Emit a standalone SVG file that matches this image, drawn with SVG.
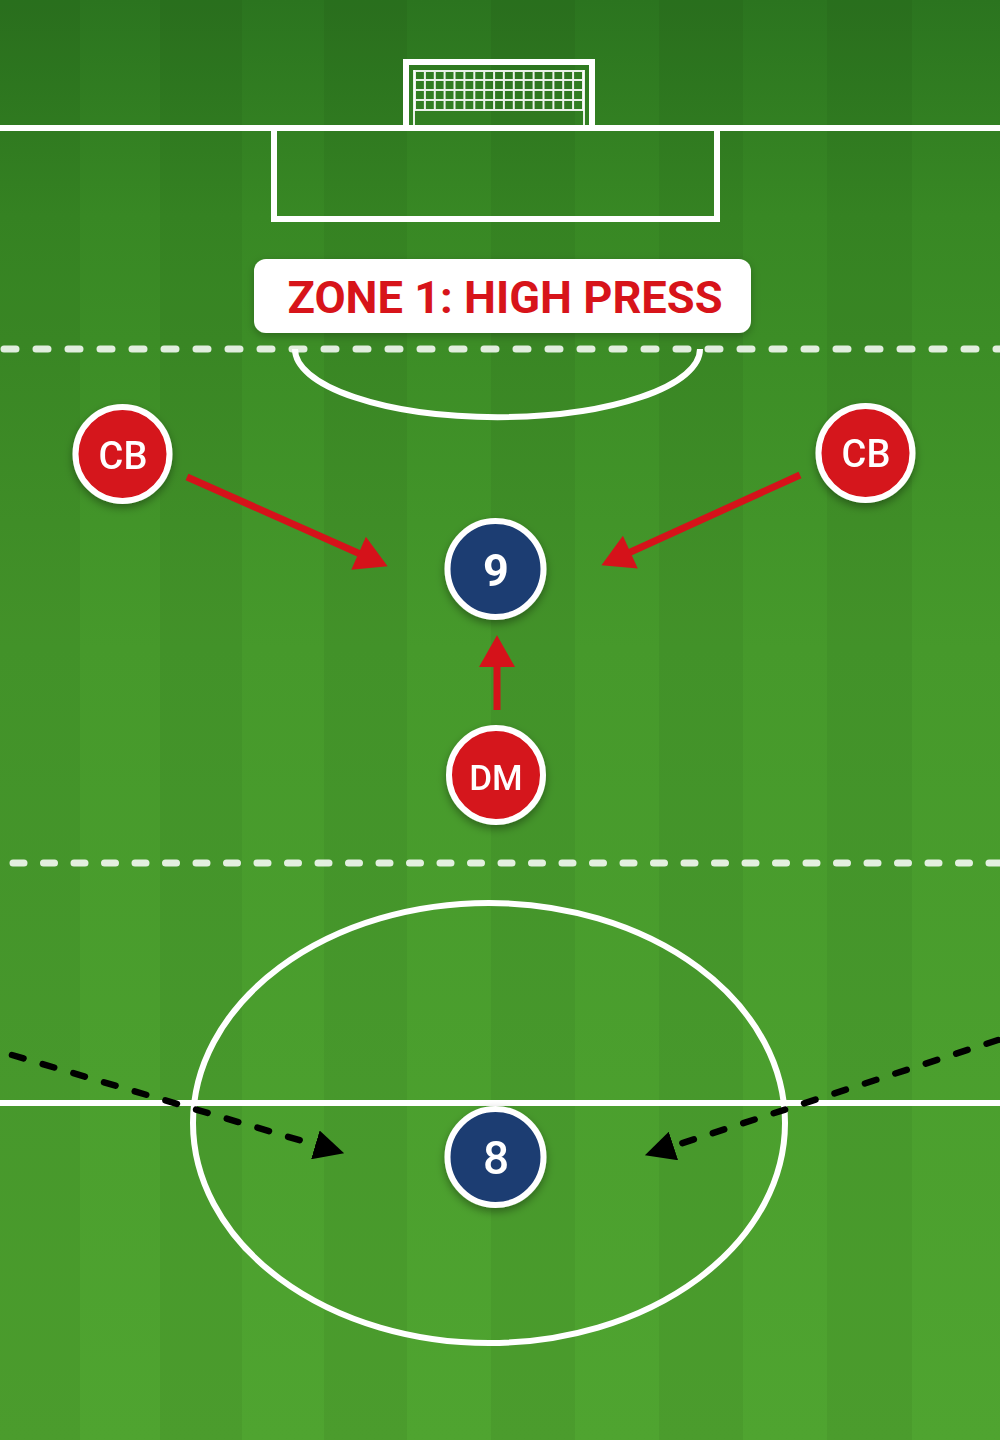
<svg xmlns="http://www.w3.org/2000/svg" width="1000" height="1440" viewBox="0 0 1000 1440">
  <defs>
    <linearGradient id="grass" x1="0" y1="0" x2="0" y2="1">
      <stop offset="0" stop-color="#2b741f"/>
      <stop offset="0.15" stop-color="#388824"/>
      <stop offset="0.45" stop-color="#46992b"/>
      <stop offset="1" stop-color="#4fa430"/>
    </linearGradient>
    <filter id="shadow" x="-30%" y="-30%" width="160%" height="170%">
      <feDropShadow dx="0" dy="4" stdDeviation="4" flood-color="#000" flood-opacity="0.35"/>
    </filter>
    <filter id="soft" x="-10%" y="-30%" width="120%" height="170%">
      <feDropShadow dx="0" dy="3" stdDeviation="4" flood-color="#000" flood-opacity="0.25"/>
    </filter>
    <marker id="redHead" markerUnits="userSpaceOnUse" markerWidth="34" markerHeight="36" viewBox="0 0 30 34" refX="18" refY="17" orient="auto">
      <path d="M0,0 L30,17 L0,34 Z" fill="#d5121a"/>
    </marker>
    <marker id="blackHead" markerUnits="userSpaceOnUse" markerWidth="30" markerHeight="30" viewBox="0 0 28 28" refX="12" refY="14" orient="auto">
      <path d="M0,0 L28,14 L0,28 Z" fill="#000"/>
    </marker>
  </defs>
  <style>
    .line { fill: none; stroke: #ffffff; stroke-width: 6; }
    .zone { fill: none; stroke: #ffffff; stroke-opacity: 0.85; stroke-width: 7; stroke-linecap: round; }
    .net { fill: none; stroke: #ffffff; stroke-width: 2; stroke-opacity: 0.9; }
    .red { fill: #d5121a; stroke: #ffffff; stroke-width: 6; }
    .blue { fill: #1b3d72; stroke: #ffffff; stroke-width: 6; }
    .lbl { fill: #ffffff; font-family: Roboto, "Liberation Sans", sans-serif; text-anchor: middle; }
    .press { fill: none; stroke: #d5121a; stroke-width: 7; }
    .run { fill: none; stroke: #000000; stroke-width: 6.5; stroke-linecap: round; stroke-dasharray: 12 20; }
  </style>

  <!-- pitch background -->
  <rect x="0" y="0" width="1000" height="1440" fill="url(#grass)"/>
  <g fill="#000" fill-opacity="0.045">
    <rect x="0" y="0" width="80" height="1440"/>
    <rect x="160" y="0" width="82" height="1440"/>
    <rect x="324" y="0" width="83" height="1440"/>
    <rect x="491" y="0" width="84" height="1440"/>
    <rect x="659" y="0" width="84" height="1440"/>
    <rect x="827" y="0" width="85" height="1440"/>
  </g>

  <!-- pitch markings -->
  <g id="markings">
    <line class="line" x1="0" y1="128" x2="1000" y2="128"/>
    <path class="line" d="M274,128 V219 H717 V128"/>
    <path class="line" d="M295,349 A202,68 0 0 0 700,349"/>
    <line class="line" x1="0" y1="1103" x2="1000" y2="1103"/>
    <ellipse class="line" cx="489" cy="1123" rx="296" ry="220"/>
  </g>

  <!-- goal -->
  <g id="goal">
    <path class="line" d="M406,128 V62 H592 V128" stroke-width="7"/>
    <path class="net" stroke-width="3" d="M414,70 V128 M584,70 V128"/>
    <path class="net" d="M415,70V110 M424.9,70V110 M434.8,70V110 M444.6,70V110 M454.5,70V110 M464.4,70V110 M474.3,70V110 M484.2,70V110 M494.1,70V110 M503.9,70V110 M513.8,70V110 M523.7,70V110 M533.6,70V110 M543.5,70V110 M553.4,70V110 M563.2,70V110 M573.1,70V110 M583,70V110 M414,71H584 M414,80H584 M414,90H584 M414,100H584 M414,110H584"/>
  </g>

  <!-- zone lines -->
  <g id="zones">
    <line class="zone" x1="4" y1="349" x2="1000" y2="349" stroke-dasharray="12 20"/>
    <line class="zone" x1="13" y1="863" x2="1000" y2="863" stroke-dasharray="11 19.5"/>
  </g>

  <!-- label -->
  <g id="zone-label">
    <rect x="254" y="259" width="497" height="74" rx="12" fill="#ffffff" filter="url(#soft)"/>
    <text x="505" y="313" fill="#d7141a" font-family="Roboto, 'Liberation Sans', sans-serif" font-weight="700" font-size="44" text-anchor="middle" textLength="435" lengthAdjust="spacingAndGlyphs">ZONE 1: HIGH PRESS</text>
  </g>

  <!-- connectors -->
  <g id="connectors">
    <line class="press" x1="187" y1="477" x2="376" y2="561" marker-end="url(#redHead)"/>
    <line class="press" x1="800" y1="475" x2="613" y2="560" marker-end="url(#redHead)"/>
    <line class="press" x1="497" y1="710" x2="497" y2="648" marker-end="url(#redHead)"/>
    <line class="run" x1="12" y1="1055" x2="327.7" y2="1148.5" marker-end="url(#blackHead)"/>
    <line class="run" x1="998" y1="1040" x2="661.2" y2="1150" marker-end="url(#blackHead)"/>
  </g>

  <!-- nodes -->
  <g id="node-cb-left" filter="url(#shadow)">
    <circle class="red" cx="122.5" cy="454" r="47"/>
    <text class="lbl" x="123" y="469" font-size="38" font-weight="500">CB</text>
  </g>
  <g id="node-cb-right" filter="url(#shadow)">
    <circle class="red" cx="865.5" cy="453" r="47"/>
    <text class="lbl" x="866" y="467" font-size="38" font-weight="500">CB</text>
  </g>
  <g id="node-9" filter="url(#shadow)">
    <circle class="blue" cx="495.5" cy="569" r="48"/>
    <text class="lbl" x="496" y="586" font-size="45" font-weight="700">9</text>
  </g>
  <g id="node-dm" filter="url(#shadow)">
    <circle class="red" cx="496" cy="775" r="47"/>
    <text class="lbl" x="496" y="790" font-size="35" font-weight="500">DM</text>
  </g>
  <g id="node-8" filter="url(#shadow)">
    <circle class="blue" cx="495.5" cy="1157" r="48"/>
    <text class="lbl" x="496" y="1174" font-size="46" font-weight="500">8</text>
  </g>
</svg>
